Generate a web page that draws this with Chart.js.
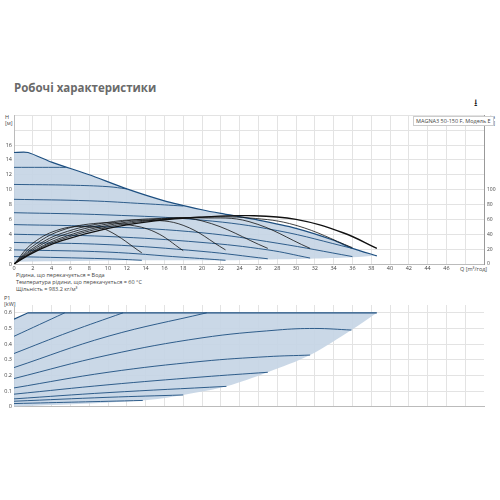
<!DOCTYPE html><html><head><meta charset="utf-8">
<script src="https://cdn.jsdelivr.net/npm/chart.js@4"></script>
<style>
body{margin:0;width:500px;height:500px;background:#fff;font-family:"Open Sans",Arial,sans-serif;position:relative;overflow:hidden}
.t{position:absolute;font-size:5.5px;color:#444;white-space:nowrap;line-height:6px}
canvas{position:absolute}
</style></head><body>
<div class="t" style="left:14px;top:81px;font-size:11.5px;line-height:14px;font-weight:bold;color:#6a6a6a">Робочі характеристики</div>
<div class="t" style="left:474px;top:97px;font-size:10px;line-height:10px;color:#222">&#11123;</div>
<div class="t" style="left:5px;top:114px">H<br>[м]</div>
<div class="t" style="left:487px;top:114px">eta<br>[%]</div>
<div class="t" style="left:413px;top:116px;border:1px solid #ccc;padding:1px 2px;background:#fff;z-index:2">MAGNA3 50-150 F, Модель E</div>
<div class="t" style="left:460px;top:266px">Q [m³/год]</div>
<div class="t" style="left:16px;top:272px">Рідина, що перекачується = Вода</div>
<div class="t" style="left:16px;top:279px">Температура рідини, що перекачується = 60 °C</div>
<div class="t" style="left:16px;top:286px">Щільність = 983.2 кг/м³</div>
<div class="t" style="left:4px;top:295px">P1<br>[kW]</div>
<canvas id="c1" style="left:0;top:110px" width="500" height="165"></canvas>
<canvas id="c2" style="left:0;top:297px" width="500" height="115"></canvas>
<script>
const xTicks=[0,2,4,6,8,10,12,14,16,18,20,22,24,26,28,30,32,34,36,38,40,42,44,46];
const hTicks=[0,2,4,6,8,10,12,14,16];
const etaTicks=[0,20,40,60,80,100];
const pTicks=[0,0.1,0.2,0.3,0.4,0.5,0.6];
const envelope=[[0,15],[1.5,15],[4,13.7],[8,12],[12,10.1],[16,8.5],[20,7.3],[22,6.8],[26,5.9],[30,4.8],[34,3.2],[36,2.1],[38.6,1.1]];
const lowerH=[[0,0.3],[13.6,0.5],[22.5,0.5],[27,0.6],[31.5,0.7],[36,0.9],[38.6,1.1]];
const speedCurves=[
 [[0,13],[3,13],[5.5,13]],
 [[0,10.7],[6,10.6],[10,10.4],[12,10.1]],
 [[0,8.7],[8,8.5],[14,8.1],[18,7.8]],
 [[0,6.9],[10,6.6],[20,5.9],[28,4.5],[36,2.1]],
 [[0,5.3],[10,5.0],[20,4.2],[28,2.8],[36,1.0]],
 [[0,4.0],[10,3.7],[20,2.9],[27,1.9],[31.5,0.8]],
 [[0,2.9],[10,2.6],[20,1.7],[27,0.7]],
 [[0,1.9],[10,1.6],[18,0.9],[22.5,0.5]],
 [[0,1.0],[10,0.7],[13.6,0.5]]
];
const etaCurves=[
 [[0,0],[2,15],[5,31],[10,48],[15,58],[20,63],[25,65],[30,60],[35,42],[38.6,21]],
 [[0,0],[2,16],[5,33],[10,50],[15,59],[20,63],[25,62],[30,52],[36,22]],
 [[0,0],[2,17],[5,35],[10,52],[15,60],[20,62],[25,57],[31.5,21]],
 [[0,0],[2,19],[5,38],[10,54],[15,61],[20,58],[27,21]],
 [[0,0],[2,21],[5,41],[10,56],[14,59],[18,52],[22.5,19]],
 [[0,0],[2,24],[5,45],[9,55],[12,53],[15,43],[18,18]],
 [[0,0],[2,28],[5,47],[8,50],[10,45],[13.6,15]]
];
const pUpper=[[0,0.56],[1.5,0.6],[38.6,0.6]];
const pLower=[[0,0],[13.7,0.04],[18,0.075],[22.6,0.13],[27,0.22],[31.5,0.33],[35.9,0.49],[38.6,0.6]];
const pCurves=[
 [[0,0.45],[5.4,0.6]],
 [[0,0.34],[6,0.48],[11.6,0.6]],
 [[0,0.25],[10,0.45],[20.5,0.6]],
 [[0,0.18],[10,0.33],[20,0.44],[28,0.49],[32,0.5],[35.9,0.49]],
 [[0,0.12],[10,0.22],[20,0.29],[27,0.32],[31.5,0.33]],
 [[0,0.08],[10,0.14],[20,0.19],[27,0.22]],
 [[0,0.05],[10,0.09],[22.6,0.13]],
 [[0,0.035],[10,0.06],[18,0.075]],
 [[0,0.02],[13.7,0.04]]
];
const pts=a=>a.map(p=>({x:p[0],y:p[1]}));
const BLUE='#1d4f80',FILL='rgba(196,212,228,0.9)',GRID='#e3e3e3';
Chart.defaults.font.family='"Open Sans",Arial,sans-serif';
Chart.defaults.font.size=5.5;Chart.defaults.color='#444';
const xScale=(show)=>({type:'linear',min:0,max:50,
 afterBuildTicks:s=>{s.ticks=xTicks.concat([48]).map(v=>({value:v}));},
 ticks:{display:show,padding:1,maxRotation:0,autoSkip:false,callback:v=>v===48?'':String(v)},
 grid:{color:GRID,drawTicks:false},border:{color:'#bbb'},
 afterFit:s=>{s.height=show?11:4;}});
const line=(d,c,w,extra)=>Object.assign({data:pts(d),borderColor:c,borderWidth:w,pointRadius:0,tension:0.4,fill:false,order:1},extra||{});
const ds1=[
 line(envelope,BLUE,1.2,{fill:'+1',backgroundColor:FILL,tension:0.2,order:10}),
 line(lowerH,'rgba(0,0,0,0)',0,{tension:0.3,order:11}),
 ...speedCurves.map(c=>line(c,BLUE,0.9)),
 ...etaCurves.map((c,i)=>line(c,'#111',i===0?1.4:0.8,{yAxisID:'y2',order:0}))
];
new Chart(document.getElementById('c1'),{type:'line',data:{datasets:ds1},
 options:{responsive:false,animation:false,layout:{padding:{top:5}},plugins:{legend:{display:false},tooltip:{enabled:false}},
 scales:{x:xScale(true),
  y:{min:0,max:20,afterBuildTicks:s=>{s.ticks=[...hTicks,18,20].map(v=>({value:v}));},
   ticks:{padding:2,callback:v=>v<=16?String(v):''},grid:{color:GRID,drawTicks:false},border:{color:'#bbb'},afterFit:s=>{s.width=14;}},
  y2:{position:'right',min:0,max:200,afterBuildTicks:s=>{s.ticks=etaTicks.map(v=>({value:v}));},
   ticks:{padding:1,font:{size:5}},grid:{display:false,drawOnChartArea:false,tickLength:2},border:{color:'#999'},afterFit:s=>{s.width=16;}}}}});
const ds2=[
 line(pUpper,BLUE,1.2,{fill:'+1',backgroundColor:FILL,tension:0,order:10}),
 line(pLower,'rgba(0,0,0,0)',0,{tension:0.3,order:11}),
 ...pCurves.map(c=>line(c,BLUE,0.9))
];
new Chart(document.getElementById('c2'),{type:'line',data:{datasets:ds2},
 options:{responsive:false,animation:false,layout:{padding:{top:8,right:16}},plugins:{legend:{display:false},tooltip:{enabled:false}},
 scales:{x:xScale(false),
  y:{min:0,max:0.65,afterBuildTicks:s=>{s.ticks=pTicks.map(v=>({value:v}));},
   ticks:{padding:2,callback:v=>String(v)},grid:{color:GRID,drawTicks:false},border:{color:'#bbb'},afterFit:s=>{s.width=14;}}}}});
</script></body></html>
